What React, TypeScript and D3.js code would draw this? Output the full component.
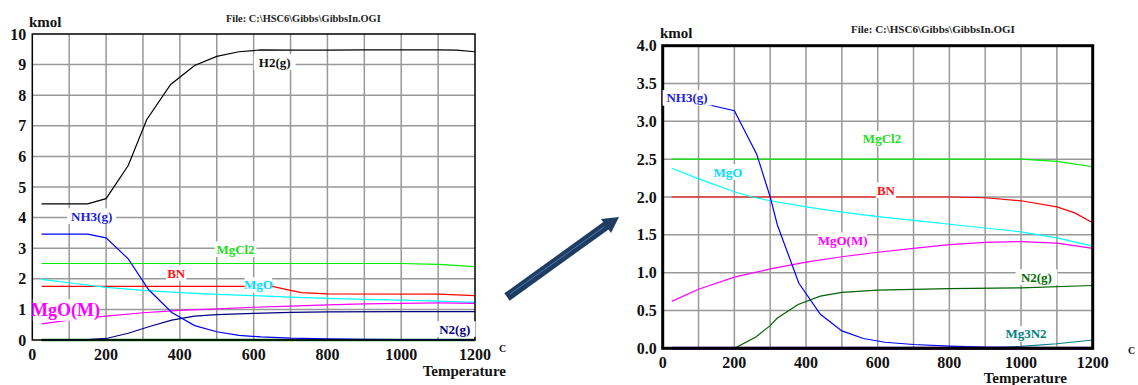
import React from "react";
import * as d3 from "d3";

type P = [number, number];

// ---------- Left chart data (kmol vs °C) ----------
const leftH2: P[] = [[25,4.45],[150,4.45],[200,4.62],[260,5.7],[310,7.2],[375,8.35],[440,8.97],[500,9.27],[560,9.42],[620,9.48],[700,9.47],[800,9.47],[900,9.48],[1000,9.48],[1100,9.48],[1150,9.47],[1200,9.42]];
const leftNH3: P[] = [[25,3.46],[150,3.46],[200,3.34],[260,2.65],[315,1.65],[378,0.9],[440,0.47],[500,0.27],[560,0.15],[620,0.1],[700,0.06],[800,0.04],[900,0.02],[1000,0.01],[1200,0.005]];
const leftN2: P[] = [[25,0],[150,0.01],[200,0.05],[260,0.22],[320,0.45],[378,0.65],[440,0.78],[500,0.83],[600,0.87],[700,0.9],[800,0.92],[1000,0.93],[1200,0.93]];
const leftMgCl2: P[] = [[25,2.5],[1000,2.5],[1100,2.47],[1200,2.4]];
const leftBN: P[] = [[25,1.75],[650,1.75],[700,1.62],[730,1.55],[800,1.51],[1100,1.5],[1200,1.45]];
const leftMgO: P[] = [[25,1.98],[100,1.87],[200,1.72],[300,1.62],[400,1.55],[500,1.49],[600,1.45],[700,1.4],[800,1.36],[900,1.33],[1000,1.3],[1100,1.27],[1200,1.23]];
const leftMgOM: P[] = [[25,0.53],[100,0.65],[200,0.78],[300,0.89],[400,0.97],[500,1.02],[600,1.07],[700,1.11],[800,1.15],[900,1.18],[1000,1.2],[1100,1.21],[1200,1.2]];
const leftMg3N2: P[] = [[25,0],[1200,0]];

// ---------- Right chart data ----------
const rightNH3: P[] = [[25,3.3],[137,3.21],[200,3.14],[262,2.57],[300,2.0],[320,1.63],[380,0.86],[440,0.45],[500,0.23],[560,0.13],[620,0.08],[700,0.05],[800,0.03],[900,0.015],[1000,0.01],[1200,0.003]];
const rightMgCl2: P[] = [[25,2.5],[1000,2.5],[1100,2.47],[1200,2.4]];
const rightBN: P[] = [[25,2.0],[800,2.0],[900,1.99],[1000,1.95],[1100,1.87],[1150,1.79],[1200,1.66]];
const rightMgO: P[] = [[25,2.38],[100,2.24],[200,2.07],[250,2.0],[300,1.95],[400,1.87],[500,1.8],[600,1.74],[700,1.69],[800,1.64],[900,1.59],[1000,1.54],[1100,1.46],[1200,1.35]];
const rightMgOM: P[] = [[25,0.62],[100,0.78],[200,0.94],[300,1.05],[400,1.14],[500,1.21],[600,1.27],[700,1.32],[800,1.37],[900,1.4],[1000,1.41],[1100,1.39],[1200,1.32]];
const rightN2: P[] = [[25,0],[200,0],[260,0.15],[300,0.3],[320,0.4],[378,0.58],[440,0.69],[500,0.74],[600,0.77],[800,0.79],[1000,0.8],[1200,0.83]];
const rightMg3N2: P[] = [[25,0],[850,0],[900,0.005],[1000,0.025],[1100,0.06],[1200,0.11]];
const rightBase: P[] = [[25,0],[1200,0]];

const xTicks = [0, 200, 400, 600, 800, 1000, 1200];
const leftYTicks = [0, 1, 2, 3, 4, 5, 6, 7, 8, 9, 10];
const rightYTicks = [0, 0.5, 1, 1.5, 2, 2.5, 3, 3.5, 4];
const fileTitle = "File: C:\\HSC6\\Gibbs\\GibbsIn.OGI";

type Series = { data: P[]; color: string; width?: number };
type Label = { text: string; t: number; v: number; color: string; size?: number };

const FONT = "Liberation Serif, Times New Roman, serif";

function Chart(props: {
  x0: number; x1: number; y0: number; y1: number;
  yMax: number; yTicks: number[]; yFmt: (v: number) => string;
  series: Series[]; labels: Label[]; borderW: number;
  titleX: number; titleY: number; titleSize: number; kmolX: number; kmolY: number;
  tempX: number; tempY: number; cX: number; cY: number;
  yGrid: number[];
}) {
  const x = d3.scaleLinear().domain([0, 1200]).range([props.x0, props.x1]);
  const y = d3.scaleLinear().domain([0, props.yMax]).range([props.y1, props.y0]);
  const line = d3.line<P>().x(d => x(d[0])).y(d => y(d[1]));
  const xGrid = d3.range(100, 1200, 100);
  return (
    <g style={{ fontFamily: FONT, fontWeight: "bold" }}>
      {xGrid.map(t => (
        <line key={"gx" + t} x1={x(t)} x2={x(t)} y1={props.y0} y2={props.y1} stroke="#999" strokeWidth={1.5} />
      ))}
      {props.yGrid.map(v => (
        <line key={"gy" + v} x1={props.x0} x2={props.x1} y1={y(v)} y2={y(v)} stroke="#999" strokeWidth={1.5} />
      ))}
      {props.series.map((s, i) => (
        <path key={"s" + i} d={line(s.data) || ""} fill="none" stroke={s.color} strokeWidth={s.width ?? 1.2} />
      ))}
      <rect x={props.x0} y={props.y0} width={props.x1 - props.x0} height={props.y1 - props.y0} fill="none" stroke="#000" strokeWidth={props.borderW} />
      {props.labels.map((l, i) => {
        const fs = l.size ?? 13;
        const w = l.text.length * fs * 0.55 + 6;
        return (
          <g key={"l" + i}>
            <rect x={x(l.t) - w / 2} y={y(l.v) - fs * 0.6} width={w} height={fs * 1.2} fill="#fff" />
            <text x={x(l.t)} y={y(l.v)} dy="0.35em" textAnchor="middle" fontSize={fs} fill={l.color}>{l.text}</text>
          </g>
        );
      })}
      {props.yTicks.map(v => (
        <text key={"yt" + v} x={props.x0 - 6} y={y(v)} dy="0.35em" textAnchor="end" fontSize={16} fill="#111">{props.yFmt(v)}</text>
      ))}
      {xTicks.map(t => (
        <text key={"xt" + t} x={x(t)} y={props.y1 + 14} dy="0.35em" textAnchor="middle" fontSize={16} fill="#111">{t}</text>
      ))}
      <text x={props.titleX} y={props.titleY} dy="0.35em" fontSize={props.titleSize} fill="#222">{fileTitle}</text>
      <text x={props.kmolX} y={props.kmolY} dy="0.35em" fontSize={15} fill="#111">kmol</text>
      <text x={props.cX} y={props.cY} dy="0.35em" fontSize={10} fill="#111">C</text>
      <text x={props.tempX} y={props.tempY} dy="0.35em" fontSize={15} fill="#111" textAnchor="end">Temperature</text>
    </g>
  );
}

export default function App() {
  return (
    <svg width={1138} height={385} style={{ position: "absolute", left: 0, top: 0, background: "#fff" }}>
      <rect width={1138} height={385} fill="#fff" />
      <Chart
        x0={32.3} x1={475} y0={34} y1={340} yMax={10}
        yTicks={leftYTicks} yFmt={v => String(v)} yGrid={d3.range(1, 10)}
        borderW={1.5}
        series={[
          { data: leftMg3N2, color: "#008000", width: 2.5 },
          { data: leftH2, color: "#000" },
          { data: leftMgCl2, color: "#00ee00" },
          { data: leftBN, color: "#ff0000" },
          { data: leftMgO, color: "#00ffff" },
          { data: leftMgOM, color: "#ff00ff" },
          { data: leftN2, color: "#000080" },
          { data: leftNH3, color: "#0000ff" },
        ]}
        labels={[
          { text: "H2(g)", t: 657, v: 9.08, color: "#111" },
          { text: "NH3(g)", t: 161, v: 4.05, color: "#2222dd" },
          { text: "MgCl2", t: 551, v: 2.97, color: "#22dd22" },
          { text: "BN", t: 390, v: 2.19, color: "#ff1111" },
          { text: "MgO", t: 613, v: 1.8, color: "#00ddff" },
          { text: "MgO(M)", t: 90, v: 0.98, color: "#ff00ff", size: 18 },
          { text: "N2(g)", t: 1145, v: 0.36, color: "#000080" },
        ]}
        titleX={226} titleY={18} titleSize={10.4} kmolX={29} kmolY={22}
        tempX={506} tempY={371} cX={499} cY={348}
      />
      <Chart
        x0={662.7} x1={1092.7} y0={45.7} y1={348.3} yMax={4}
        yTicks={rightYTicks} yFmt={v => v.toFixed(1)} yGrid={d3.range(0.5, 4, 0.5)}
        borderW={3}
        series={[
          { data: rightMgCl2, color: "#00ee00" },
          { data: rightBN, color: "#ff0000" },
          { data: rightMgO, color: "#00ffff" },
          { data: rightMgOM, color: "#ff00ff" },
          { data: rightN2, color: "#006400" },
          { data: rightMg3N2, color: "#008080" },
          { data: rightNH3, color: "#0000ff" },
          { data: rightBase, color: "#6a0dad", width: 3 },
        ]}
        labels={[
          { text: "NH3(g)", t: 68, v: 3.31, color: "#2222dd" },
          { text: "MgCl2", t: 612, v: 2.77, color: "#22dd22" },
          { text: "MgO", t: 182, v: 2.33, color: "#00ddff" },
          { text: "BN", t: 623, v: 2.09, color: "#ff1111" },
          { text: "MgO(M)", t: 502, v: 1.43, color: "#ff00ff" },
          { text: "N2(g)", t: 1043, v: 0.94, color: "#007000" },
          { text: "Mg3N2", t: 1014, v: 0.19, color: "#008080" },
        ]}
        titleX={851} titleY={29} titleSize={11} kmolX={660} kmolY={33}
        tempX={1067} tempY={378} cX={1128} cY={350}
      />
      <g>
        <line x1={507} y1={297} x2={607} y2={225} stroke="#1f3d63" strokeWidth={9} />
        <line x1={510} y1={294} x2={604} y2={227} stroke="#4a78b0" strokeWidth={1} />
        <polygon points="619,217 601,219 611,233" fill="#1f3d63" />
      </g>
    </svg>
  );
}
